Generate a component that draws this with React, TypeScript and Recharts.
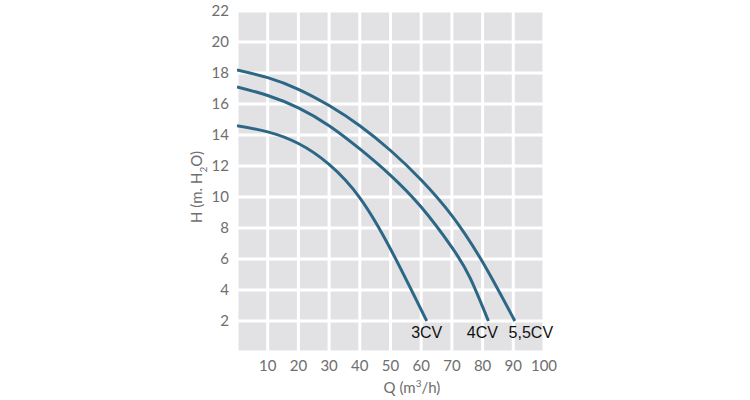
import { LineChart, Line, XAxis, YAxis, CartesianGrid } from 'recharts'

// pump curves: flow Q (m3/h) vs head H (m H2O)
const q3 = [0, 10, 20, 30, 40, 50, 61.8]
const h3 = [14.6, 14.2, 13.45, 12.1, 9.95, 6.65, 2.0]

const q4 = [0, 10, 20, 30, 40, 50, 60, 70, 76, 81.9]
const h4 = [17.1, 16.55, 15.75, 14.6, 13.1, 11.4, 9.35, 6.75, 4.75, 2.0]

const q55 = [0, 10, 20, 30, 40, 50, 60, 70, 80, 90.5]
const h55 = [18.2, 17.7, 16.95, 15.9, 14.6, 13.0, 11.1, 8.8, 5.8, 2.0]

const seriesNames = ['3CV', '4CV', '5,5CV']
const xTicks = [0, 10, 20, 30, 40, 50, 60, 70, 80, 90, 100]
const yTicks = [0, 2, 4, 6, 8, 10, 12, 14, 16, 18, 20, 22]

const toPoints = (qs: number[], hs: number[]) => qs.map((q, i) => ({ q, h: hs[i] }))

const series = [
  { name: seriesNames[0], data: toPoints(q3, h3), dx: 0 },
  { name: seriesNames[1], data: toPoints(q4, h4), dx: -6 },
  { name: seriesNames[2], data: toPoints(q55, h55), dx: 16 },
]

const LINE_COLOR = '#2d6786'
const TICK_FONT = 'Lato, "DejaVu Sans", sans-serif'

function endLabel(name: string, last: number, dx: number) {
  return (props: any) => {
    if (props.index !== last) return null
    return (
      <text
        x={props.x + dx}
        y={props.y + 17}
        textAnchor="middle"
        fontFamily='"Liberation Sans", Arial, sans-serif'
        fontSize={16}
        fill="#111"
      >
        {name}
      </text>
    )
  }
}

export default function App() {
  return (
    <div style={{ position: 'absolute', left: 0, top: 0, background: '#fff' }}>
      <LineChart width={750} height={400} margin={{ top: 11, right: 206, bottom: 0, left: 0 }}>
        <CartesianGrid fill="#e2e2e5" stroke="#ffffff" strokeWidth={3} />
        <XAxis
          type="number"
          dataKey="q"
          domain={[0, 100]}
          ticks={xTicks}
          allowDataOverflow
          axisLine={false}
          tickLine={false}
          height={48}
          tick={{ fill: '#6e6e6e', fontSize: 15, fontFamily: TICK_FONT }}
          tickFormatter={(v) => (v === 0 ? '' : String(v))}
          label={{
            content: () => (
              <text x={412} y={393} textAnchor="middle" fill="#6e6e6e" fontSize={15} fontFamily={TICK_FONT}>
                Q (m<tspan dy={-6} fontSize={10}>3</tspan>
                <tspan dy={6}>/h)</tspan>
              </text>
            ),
          }}
        />
        <YAxis
          type="number"
          domain={[0, 22]}
          ticks={yTicks}
          axisLine={false}
          tickLine={false}
          width={237}
          tick={{ fill: '#6e6e6e', fontSize: 15, fontFamily: TICK_FONT }}
          tickFormatter={(v) => (v === 0 ? '' : String(v))}
          label={{
            content: () => (
              <text
                transform="translate(202,187) rotate(-90)"
                textAnchor="middle"
                fill="#6e6e6e"
                fontSize={15}
                fontFamily={TICK_FONT}
              >
                H (m. H<tspan dy={5} fontSize={10}>2</tspan>
                <tspan dy={-5}>O)</tspan>
              </text>
            ),
          }}
        />
        {series.map((s) => (
          <Line
            key={s.name}
            data={s.data}
            dataKey="h"
            type="natural"
            stroke={LINE_COLOR}
            strokeWidth={3}
            dot={false}
            isAnimationActive={false}
            label={endLabel(s.name, s.data.length - 1, s.dx)}
          />
        ))}
      </LineChart>
    </div>
  )
}
